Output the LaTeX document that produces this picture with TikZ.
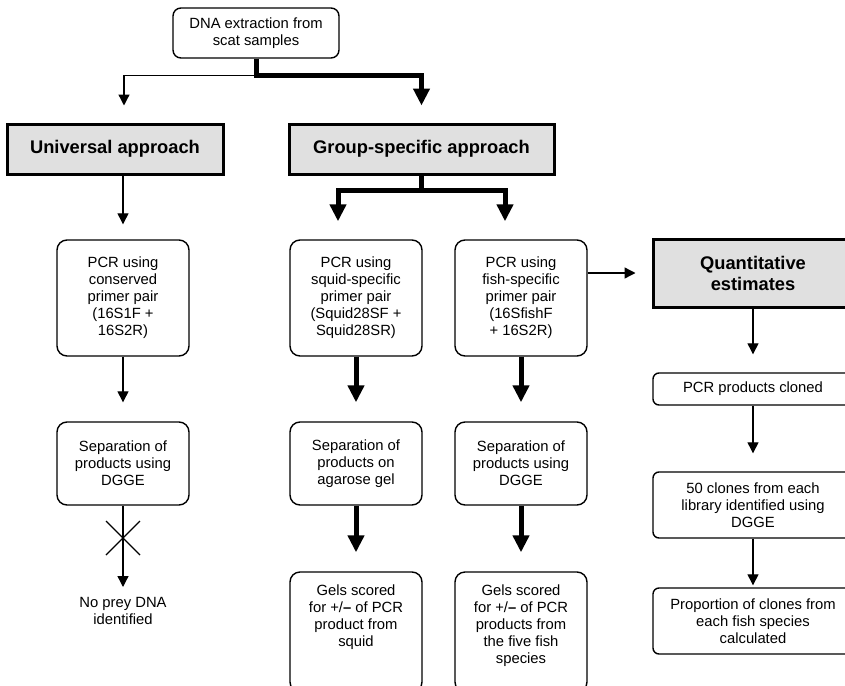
\documentclass[tikz,border=0pt]{standalone}
\usepackage{fontspec}
\setmainfont{Liberation Sans}
\usetikzlibrary{arrows.meta,calc}
\definecolor{graybox}{RGB}{224,224,224}
\tikzset{
  rbox/.style={draw, line width=1.4pt, rounded corners=10pt, align=center, inner sep=0pt,
    minimum width=132pt, font=\fontsize{14.8}{17}\selectfont},
  rboxr/.style={rbox, rounded corners=6pt, minimum width=200pt},
  gbox/.style={draw, line width=3pt, fill=graybox, align=center, inner sep=0pt,
    font=\fontsize{18.3}{21}\selectfont\bfseries},
  txt/.style={align=center, inner sep=0pt, font=\fontsize{14.8}{17}\selectfont},
  thinln/.style={line width=1.1pt},
  thinarr/.style={line width=1.3pt, -{Triangle[width=11pt,length=11pt]}},
  thickarr/.style={line width=5pt, -{Triangle[width=16pt,length=17pt]}},
}
\begin{document}
\begin{tikzpicture}[x=1pt,y=-1pt]
\clip (0,0) rectangle (845,685);
\fill[white] (0,0) rectangle (845,685);
% nodes
\node[rbox, rounded corners=8pt, minimum width=166pt, minimum height=50pt] (top) at (256,33) {DNA extraction from\\scat samples};
\node[gbox, minimum width=216pt, minimum height=50pt] (univ) at (115,149) {Universal approach};
\node[gbox, minimum width=265pt, minimum height=50pt] (group) at (421.5,149) {Group-specific approach};
\node[gbox, minimum width=200pt, minimum height=68pt] (quant) at (753,273) {Quantitative\\estimates};

\node[rbox, minimum height=116pt] (pcr1) at (123,298) {PCR using\\conserved\\primer pair\\(16S1F +\\16S2R)};
\node[rbox, minimum height=116pt] (pcr2) at (356,298) {PCR using\\squid-specific\\primer pair\\(Squid28SF +\\Squid28SR)};
\node[rbox, minimum height=116pt] (pcr3) at (521,298) {PCR using\\fish-specific\\primer pair\\(16SfishF\\+ 16S2R)};

\node[rbox, minimum height=83pt] (sep1) at (123,463.5) {Separation of\\products using\\DGGE};
\node[rbox, minimum height=83pt] (sep2) at (356,463.5) {Separation of\\products on\\agarose gel};
\node[rbox, minimum height=83pt] (sep3) at (521,463.5) {Separation of\\products using\\DGGE};

\node[rbox, minimum height=120pt] (gsq) at (356,632) {};
\node[txt, anchor=north] (gsqt) at (356,585) {Gels scored\\for +/{\bfseries\textendash} of PCR\\product from\\squid};
\node[rbox, minimum height=120pt] (gfi) at (521,632) {};
\node[txt, anchor=north] (gfit) at (521,585) {Gels scored\\for +/{\bfseries\textendash} of PCR\\products from\\the five fish\\species};

\node[txt, anchor=north] (noprey) at (123,597) {No prey DNA\\identified};

\node[rboxr, minimum height=32pt] (clon) at (753,389) {PCR products cloned};
\node[rboxr, minimum height=66pt] (c50) at (753,505) {50 clones from each\\library identified using\\DGGE};
\node[rboxr, minimum height=66pt] (prop) at (753,621) {Proportion of clones from\\each fish species\\calculated};

% connectors
\coordinate (tj) at ($(top.south)+(0,17)$);
\draw[thinarr] (tj) -| ([xshift=9pt,yshift=17pt]univ.north);
\draw[thickarr] (top.south) -- (tj) -| ([yshift=17pt]group.north);

\coordinate (gj) at ($(group.south)+(0,15)$);
\draw[thickarr] (group.south) -- (gj) -| ([xshift=-18pt,yshift=18pt]pcr2.north);
\draw[thickarr] (gj) -| ([xshift=-16pt,yshift=18pt]pcr3.north);

\draw[thinarr] (pcr1.north |- univ.south) -- ([yshift=15pt]pcr1.north);
\draw[thinarr] (pcr1.south) -- ([yshift=19pt]sep1.north);
\draw[thinarr] (sep1.south) -- ([yshift=10pt]noprey.north);
\coordinate (xc) at (123,538);
\draw[thinln] ($(xc)+(-17,-17)$) -- ($(xc)+(17,17)$);
\draw[thinln] ($(xc)+(17,-17)$) -- ($(xc)+(-17,17)$);

\draw[thickarr] (pcr2.south) -- ([yshift=19pt]sep2.north);
\draw[thickarr] (sep2.south) -- ([yshift=19pt]gsq.north);
\draw[thickarr] (pcr3.south) -- ([yshift=19pt]sep3.north);
\draw[thickarr] (sep3.south) -- ([yshift=19pt]gfi.north);

\draw[thinarr] (pcr3.east |- quant.west) -- ([xshift=-16pt]quant.west);
\draw[thinarr] (quant.south) -- ([yshift=18pt]clon.north);
\draw[thinarr] (clon.south) -- ([yshift=18pt]c50.north);
\draw[thinarr] (c50.south) -- ([yshift=2pt]prop.north);
\end{tikzpicture}
\end{document}
